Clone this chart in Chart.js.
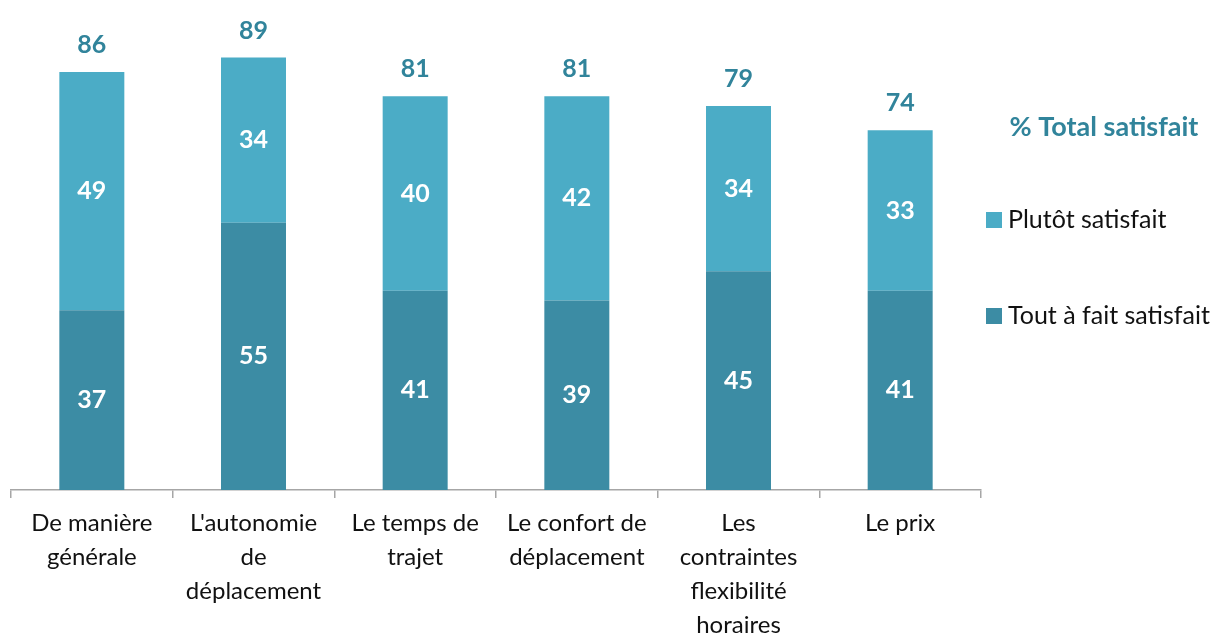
<!DOCTYPE html>
<html><head><meta charset="utf-8">
<script src="https://cdn.jsdelivr.net/npm/chart.js@4/dist/chart.umd.min.js"></script>
<style>html,body{margin:0;padding:0;background:#fff}#wrap{width:1221px;height:637px;position:relative}</style>
</head><body><div id="wrap"><canvas id="c" width="1221" height="637"></canvas></div>
<script>
const categories = [["De manière","générale"],["L'autonomie","de","déplacement"],["Le temps de","trajet"],["Le confort de","déplacement"],["Les","contraintes","flexibilité","horaires"],["Le prix"]];
const toutAFait = [37,55,41,39,45,41];
const plutot = [49,34,40,42,34,33];
const totals = [86,89,81,81,79,74];
const seriesNames = ["Tout à fait satisfait","Plutôt satisfait"];
const legendTitle = "% Total satisfait";

const FONT = "'Lato','Open Sans',sans-serif";
const DARK = "#3C8CA4", LIGHT = "#4BACC6", TEAL = "#31849B";

const labelsPlugin = {
  id:'labels',
  afterDatasetsDraw(chart){
    const ctx = chart.ctx;
    ctx.save();
    ctx.font = "bold 25px " + FONT;
    ctx.textAlign = 'center'; ctx.textBaseline = 'middle';
    ctx.fillStyle = '#fff';
    chart.data.datasets.forEach((ds,di)=>{
      chart.getDatasetMeta(di).data.forEach((bar,i)=>{
        ctx.fillText(String(ds.data[i]), bar.x, (bar.y+bar.base)/2);
      });
    });
    ctx.fillStyle = TEAL;
    const top = chart.getDatasetMeta(1).data;
    top.forEach((bar,i)=>{ ctx.fillText(String(totals[i]), bar.x, bar.y-27); });
    // legend
    ctx.font = "bold 27px " + FONT;
    ctx.textAlign='center';
    ctx.fillText(legendTitle, 1104, 127);
    ctx.font = "25px " + FONT;
    ctx.textAlign='left';
    const items = [[1,220],[0,316]];
    items.forEach(([di,y])=>{
      const ds = chart.data.datasets[di];
      ctx.fillStyle = ds.backgroundColor;
      ctx.fillRect(986, y-8, 16, 16);
      ctx.fillStyle = '#111';
      ctx.fillText(ds.label, 1008, y);
    });
    ctx.restore();
  }
};

new Chart(document.getElementById('c'), {
  type:'bar',
  data:{
    labels: categories,
    datasets:[
      {label: seriesNames[0], data: toutAFait, backgroundColor: DARK, barPercentage:1, categoryPercentage:0.402},
      {label: seriesNames[1], data: plutot, backgroundColor: LIGHT, barPercentage:1, categoryPercentage:0.402}
    ]
  },
  options:{
    responsive:false, animation:false,
    layout:{padding:{left:11, right:240, top:4, bottom:0}},
    plugins:{legend:{display:false}, tooltip:{enabled:false}},
    scales:{
      x:{
        stacked:true,
        border:{display:true, color:'#A6A6A6', width:1.5},
        grid:{display:true, drawOnChartArea:false, drawTicks:true, tickLength:8, color:'#A6A6A6', lineWidth:1.5, offset:true},
        ticks:{color:'#111', font:{family:FONT, size:24, lineHeight:1.42}, padding:8, maxRotation:0, autoSkip:false},
        afterFit(s){ s.height = 147; }
      },
      y:{stacked:true, display:false, min:0, max:100}
    }
  },
  plugins:[labelsPlugin]
});
</script></body></html>
